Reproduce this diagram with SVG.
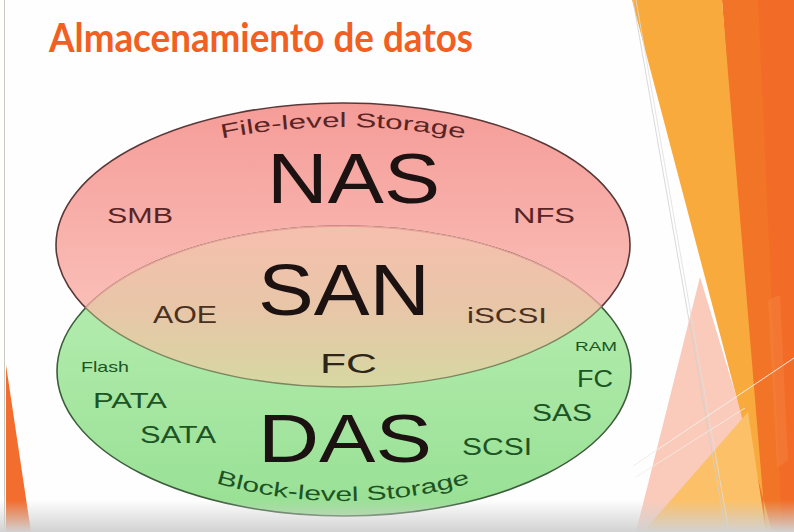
<svg xmlns="http://www.w3.org/2000/svg" width="794" height="532" viewBox="0 0 794 532">
  <defs>
    <style>
      .lbl { font-family: "Liberation Sans", Arial, sans-serif; }
      .nas { fill: #5a2424; }
      .san { fill: #4a3020; }
      .das { fill: #1d5424; }
      .big { fill: #1c1212; }
      .title { font-family: "Lato", "Open Sans", sans-serif; font-weight: bold; fill: #f15f22; }
    </style>
    <linearGradient id="gPink" x1="0" y1="0" x2="0" y2="1">
      <stop offset="0" stop-color="#f59c98"/>
      <stop offset="1" stop-color="#fccbc3"/>
    </linearGradient>
    <linearGradient id="gGreen" x1="0" y1="0" x2="0" y2="1">
      <stop offset="0" stop-color="#bcf0b6"/>
      <stop offset="1" stop-color="#98e094"/>
    </linearGradient>
    <linearGradient id="gMix" gradientUnits="userSpaceOnUse" x1="0" y1="228" x2="0" y2="388">
      <stop offset="0" stop-color="#f6bfae"/>
      <stop offset="0.5" stop-color="#e8c6a8"/>
      <stop offset="1" stop-color="#d6d8a2"/>
    </linearGradient>
    <linearGradient id="gBottom" x1="0" y1="0" x2="0" y2="1">
      <stop offset="0" stop-color="#d0d0d0" stop-opacity="0"/>
      <stop offset="1" stop-color="#d2d2d2" stop-opacity="1"/>
    </linearGradient>
    <clipPath id="clipPink">
      <ellipse cx="343" cy="245" rx="287" ry="142"/>
    </clipPath>
    <clipPath id="clipGreen">
      <ellipse cx="344" cy="371" rx="287" ry="145"/>
    </clipPath>
    <path id="arcTop" d="M 63,245 A 280,118 0 0,1 623,245"/>
    <path id="arcBottom" d="M 93,371 A 250,130 0 0,0 593,371"/>
  </defs>

  <!-- slide background -->
  <rect x="0" y="0" width="794" height="532" fill="#fefefe"/>
  <line x1="4.5" y1="0" x2="4.5" y2="532" stroke="#c9cbc2" stroke-width="1"/>
  <polygon points="6,365 31,532 6,532" fill="#f26d2e"/>

  <!-- right-hand facet decoration -->
  <g id="facets">
    <polygon points="722,0 794,0 794,532 760,532" fill="#f27426"/>
    <polygon points="758,0 794,0 794,532 782,532" fill="#f36c27"/>
    <polygon points="768,300 780,295 788,460 777,468" fill="#f58a4a" opacity="0.35"/>
    <polygon points="632,0 722,0 766,532 772,532" fill="#f9aa3d"/>
    <polygon points="700,277 747,432 643,532 636,532" fill="#f7a88c" opacity="0.6"/>
    <polygon points="643,532 748,412 766,532" fill="#fcc068"/>
    <line x1="633" y1="0" x2="726" y2="532" stroke="#cfcfcf" stroke-width="0.8"/>
    <line x1="636" y1="0" x2="729" y2="532" stroke="#dedede" stroke-width="0.8"/>
    <line x1="633" y1="466" x2="794" y2="358" stroke="#f3ece6" stroke-width="1"/>
    <line x1="636" y1="477" x2="745" y2="408" stroke="#f3ece6" stroke-width="0.8"/>
  </g>

  <!-- title -->
  <text class="title" x="49" y="52" font-size="40" textLength="424" lengthAdjust="spacingAndGlyphs">Almacenamiento de datos</text>

  <!-- Venn diagram -->
  <g id="nas">
    <ellipse cx="343" cy="245" rx="287" ry="142" fill="url(#gPink)" stroke="#5a3838" stroke-width="1.6"/>
  </g>
  <g id="das">
    <ellipse cx="344" cy="371" rx="287" ry="145" fill="url(#gGreen)" stroke="#3c5c3c" stroke-width="1.6"/>
  </g>
  <g id="san">
    <ellipse cx="343" cy="245" rx="287" ry="142" fill="url(#gMix)" clip-path="url(#clipGreen)"/>
    <ellipse cx="344" cy="371" rx="287" ry="145" fill="none" stroke="#e6a298" stroke-width="1.4" clip-path="url(#clipPink)"/>
    <ellipse cx="343" cy="245" rx="287" ry="142" fill="none" stroke="#7e8660" stroke-width="1.3" clip-path="url(#clipGreen)"/>
  </g>

  <!-- labels -->
  <g id="nas-labels" class="lbl">
    <text class="nas" font-size="20"><textPath href="#arcTop" startOffset="50%" text-anchor="middle" textLength="244" lengthAdjust="spacingAndGlyphs">File-level Storage</textPath></text>
    <text class="big" x="267" y="203" font-size="70" textLength="173" lengthAdjust="spacingAndGlyphs">NAS</text>
    <text class="nas" x="107" y="223" font-size="22" textLength="66" lengthAdjust="spacingAndGlyphs">SMB</text>
    <text class="nas" x="513" y="223" font-size="22" textLength="62" lengthAdjust="spacingAndGlyphs">NFS</text>
  </g>
  <g id="san-labels" class="lbl">
    <text class="big" x="258" y="315" font-size="72" textLength="172" lengthAdjust="spacingAndGlyphs">SAN</text>
    <text class="san" x="153" y="323" font-size="24" textLength="64" lengthAdjust="spacingAndGlyphs">AOE</text>
    <text class="san" x="467" y="323" font-size="22" textLength="80" lengthAdjust="spacingAndGlyphs">iSCSI</text>
    <text fill="#2e2618" x="320" y="373" font-size="28" textLength="57" lengthAdjust="spacingAndGlyphs">FC</text>
  </g>
  <g id="das-labels" class="lbl">
    <text class="big" x="258" y="462" font-size="68" textLength="174" lengthAdjust="spacingAndGlyphs">DAS</text>
    <text class="das" x="81" y="372" font-size="15" textLength="48" lengthAdjust="spacingAndGlyphs">Flash</text>
    <text class="das" x="93" y="408" font-size="22" textLength="74" lengthAdjust="spacingAndGlyphs">PATA</text>
    <text class="das" x="140" y="443" font-size="24" textLength="76" lengthAdjust="spacingAndGlyphs">SATA</text>
    <text class="das" x="575" y="351" font-size="13" textLength="42" lengthAdjust="spacingAndGlyphs">RAM</text>
    <text class="das" x="577" y="387" font-size="23" textLength="36" lengthAdjust="spacingAndGlyphs">FC</text>
    <text class="das" x="532" y="421" font-size="24" textLength="60" lengthAdjust="spacingAndGlyphs">SAS</text>
    <text class="das" x="462" y="455" font-size="23" textLength="70" lengthAdjust="spacingAndGlyphs">SCSI</text>
    <text class="das" font-size="20"><textPath href="#arcBottom" startOffset="50%" text-anchor="middle" textLength="258" lengthAdjust="spacingAndGlyphs">Block-level Storage</textPath></text>
  </g>

  <!-- grey band along the lower edge -->
  <rect x="0" y="500" width="794" height="32" fill="url(#gBottom)"/>
</svg>
